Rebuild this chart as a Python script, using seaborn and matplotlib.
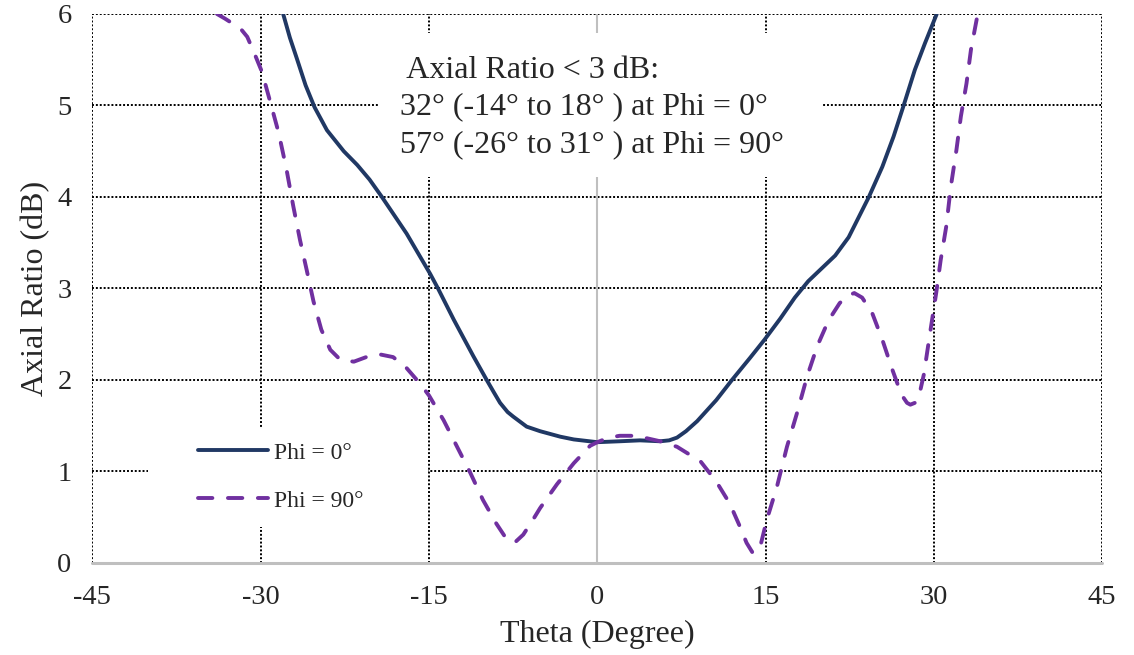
import numpy as np
import pandas as pd
import matplotlib
matplotlib.use("Agg")
import matplotlib.pyplot as plt
from matplotlib.patches import Rectangle
import seaborn as sns

# ---- data ----
theta_phi0 = [-28.0, -27.4, -26.8, -26.0, -25.2, -24.1, -22.6, -21.4, -20.3, -19.2,
              -17.0, -14.9, -14.2, -12.8, -11.05, -9.86, -9.2, -8.67, -8.0, -7.5,
              -6.3, -5.1, -3.3, -2.1, 0.0, 2.0, 3.8, 5.6, 6.4, 7.1, 7.9, 8.9, 10.6,
              12.0, 13.6, 14.9, 16.3, 17.6, 18.8, 20.0, 21.2, 22.4, 23.3, 24.2,
              25.4, 26.4, 27.3, 28.3, 29.2, 30.25]
ar_phi0 = [6.00, 5.74, 5.52, 5.22, 4.98, 4.73, 4.50, 4.35, 4.19, 4.00,
           3.60, 3.16, 3.00, 2.66, 2.26, 2.00, 1.86, 1.75, 1.65, 1.60,
           1.49, 1.44, 1.38, 1.35, 1.32, 1.33, 1.34, 1.33, 1.34, 1.37, 1.44, 1.55,
           1.78, 2.00, 2.24, 2.44, 2.67, 2.90, 3.08, 3.22, 3.36, 3.56, 3.78, 4.00,
           4.33, 4.66, 5.00, 5.39, 5.68, 6.00]

theta_phi90 = [-33.9, -33.2, -31.8, -31.2, -30.5, -29.9, -29.2, -28.4, -27.7, -27.1,
               -26.5, -25.9, -25.3, -24.6, -23.8, -22.9, -21.7, -20.6, -19.4, -18.2,
               -17.0, -15.8, -15.0, -13.7, -12.5, -11.3, -10.2, -9.0, -8.3, -7.8,
               -7.3, -6.6, -5.7, -5.1, -3.6, -2.1, -0.65, 0.0, 1.0, 2.0, 3.0, 3.8,
               5.6, 7.1, 9.2, 10.6, 11.8, 12.7, 13.3, 13.8, 14.1, 14.5, 15.1, 16.0,
               16.9, 17.8, 18.7, 19.6, 20.6, 21.6, 22.3, 22.9, 23.6, 24.5, 25.4,
               26.3, 27.1, 27.6, 27.9, 28.3, 28.7, 29.1, 29.6, 30.2, 30.6, 31.1,
               31.5, 32.0, 32.4, 32.9, 33.3, 33.9]
ar_phi90 = [6.00, 5.95, 5.84, 5.75, 5.55, 5.37, 5.06, 4.70, 4.30, 3.90,
            3.53, 3.20, 2.86, 2.55, 2.33, 2.22, 2.20, 2.25, 2.28, 2.25,
            2.13, 1.96, 1.83, 1.56, 1.27, 0.98, 0.69, 0.43, 0.30, 0.23,
            0.23, 0.31, 0.48, 0.60, 0.86, 1.09, 1.28, 1.32, 1.37, 1.39, 1.39, 1.38,
            1.33, 1.27, 1.11, 0.89, 0.65, 0.40, 0.22, 0.12, 0.11, 0.17, 0.47, 0.83,
            1.27, 1.64, 2.04, 2.37, 2.65, 2.84, 2.92, 2.95, 2.90, 2.73, 2.44,
            2.11, 1.84, 1.75, 1.73, 1.75, 1.84, 2.06, 2.47, 2.95, 3.31, 3.68,
            4.11, 4.51, 4.88, 5.24, 5.61, 6.00]

series_names = ["Phi = 0°", "Phi = 90°"]
x_ticks = [-45, -30, -15, 0, 15, 30, 45]
y_ticks = [0, 1, 2, 3, 4, 5, 6]
annotation_lines = [" Axial Ratio < 3 dB:",
                    "32° (-14° to 18° ) at Phi = 0°",
                    "57° (-26° to 31° ) at Phi = 90°"]

df = pd.concat([
    pd.DataFrame({"Theta": theta_phi0, "AR": ar_phi0, "Series": series_names[0]}),
    pd.DataFrame({"Theta": theta_phi90, "AR": ar_phi90, "Series": series_names[1]}),
], ignore_index=True)

sns.set_theme(style="white")
plt.rcParams["font.family"] = ["Liberation Serif", "DejaVu Serif"]

fig = plt.figure(figsize=(11.34, 6.55), dpi=100)
ax = fig.add_axes([0.0815, 0.1405, 0.8905, 0.8382])

LW = 2.8
palette = {series_names[0]: "#203864", series_names[1]: "#7030A0"}
dashes = {series_names[0]: "", series_names[1]: (3.7, 4.0)}
sns.lineplot(data=df, x="Theta", y="AR", hue="Series", style="Series",
             palette=palette, dashes=dashes, linewidth=LW, ax=ax,
             sort=False, estimator=None, zorder=5,
             dash_capstyle="round", solid_capstyle="round",
             solid_joinstyle="round", dash_joinstyle="round")

ax.set_xlim(-45, 45)
ax.set_ylim(0, 6)
ax.set_xticks(x_ticks)
ax.set_yticks(y_ticks)
ax.set_xticklabels([str(t) for t in x_ticks], fontsize=20.5)
ax.set_yticklabels([str(t) for t in y_ticks], fontsize=20.5)
ax.tick_params(axis="x", length=0, pad=16)
ax.tick_params(axis="y", length=0, pad=15)

for s in ax.spines.values():
    s.set_visible(False)

# dotted grid (Excel style)
dot = (0, (1, 1))
for yv in y_ticks[1:]:
    ax.axhline(yv, color="black", linestyle=dot, linewidth=1.4, zorder=1)
for xv in x_ticks:
    if xv != 0:
        ax.axvline(xv, color="black", linestyle=dot, linewidth=1.4, zorder=1)
ax.axvline(0, color="#BFBFBF", linewidth=1.5, zorder=2)
ax.axhline(0, color="#BFBFBF", linewidth=2.2, zorder=2, clip_on=False)

ax.set_xlabel("Theta (Degree)", fontsize=23, labelpad=7)
ax.set_ylabel("Axial Ratio (dB)", fontsize=23, labelpad=5)

# white boxes behind annotation and legend (cover the grid)
ax.add_patch(Rectangle((0.283, 0.703), 0.4397, 0.262, transform=ax.transAxes,
                       facecolor="white", edgecolor="none", zorder=3))
ax.add_patch(Rectangle((0.055, 0.0656), 0.2773, 0.182, transform=ax.transAxes,
                       facecolor="white", edgecolor="none", zorder=3))

for line_text, y_base in zip(annotation_lines, [5.30, 4.90, 4.49]):
    ax.text(-17.58, y_base, line_text, fontsize=23, ha="left", va="baseline", zorder=4)

leg = ax.legend(loc="center left", bbox_to_anchor=(0.1049, 0.157), frameon=False,
                fontsize=17, handlelength=2.97, handletextpad=0.24,
                labelspacing=1.12, borderpad=0, borderaxespad=0)
leg.set_zorder(6)
for h in leg.get_lines():
    h.set_linewidth(LW)
    h.set_dash_capstyle("round")
    h.set_solid_capstyle("round")

fig.savefig("out.png", dpi=100, facecolor="white")
